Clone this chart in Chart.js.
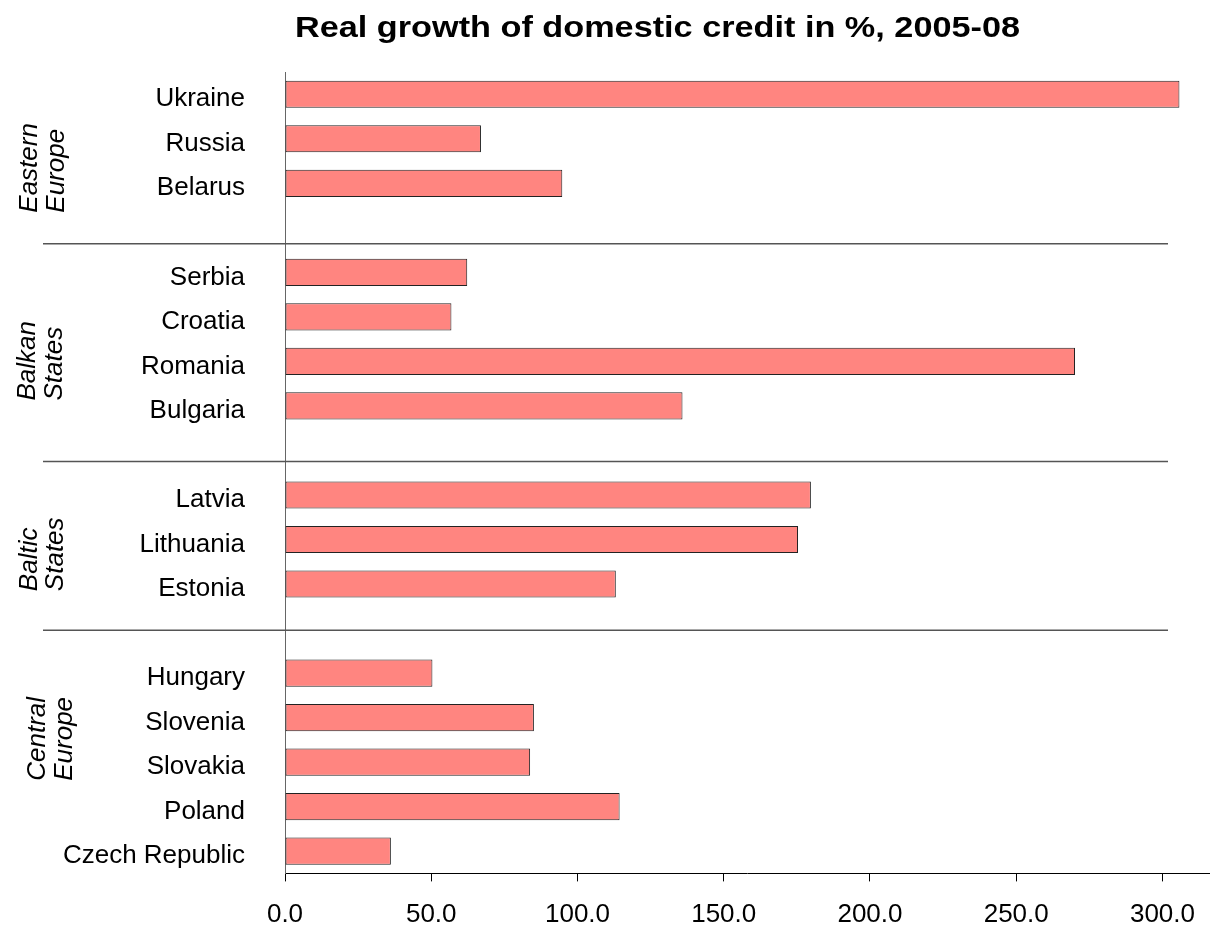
<!DOCTYPE html>
<html>
<head>
<meta charset="utf-8">
<title>Real growth of domestic credit</title>
<script src="https://cdn.jsdelivr.net/npm/chart.js@4.4.0/dist/chart.umd.min.js"></script>
<style>
  html, body { margin: 0; padding: 0; background: #fff; }
  canvas { display: block; }
</style>
</head>
<body>
<canvas id="creditChart" width="1213" height="929"></canvas>
<script>
const countries = ["Ukraine", "Russia", "Belarus", "", "Serbia", "Croatia", "Romania", "Bulgaria", "",
                   "Latvia", "Lithuania", "Estonia", "", "Hungary", "Slovenia", "Slovakia", "Poland", "Czech Republic"];
const creditGrowth = [305.8, 67.0, 94.8, null, 62.3, 56.9, 270.1, 135.9, null,
                      179.8, 175.4, 113.1, null, 50.4, 85.1, 83.8, 114.4, 36.2];
const regionNames = [["Eastern", "Europe"], ["Balkan", "States"], ["Baltic", "States"], ["Central", "Europe"]];
const xTicks = [0, 50, 100, 150, 200, 250, 300];
const chartTitle = "Real growth of domestic credit in %, 2005-08";

const FONT = '"Liberation Sans", Arial, sans-serif';

// where each region caption starts (category index) and the baseline x of its two lines
const regionLayout = [
    { at: 2.66, x: [37, 64] },
    { at: 6.88, x: [35, 62] },
    { at: 11.16, x: [37, 63] },
    { at: 15.42, x: [45, 72] },
];
const dividerRows = [3.36, 8.25, 12.04];

const decorations = {
    id: "decorations",
    afterDraw(chart) {
        const ctx = chart.ctx;
        const y = chart.scales.y;

        // title, slightly condensed
        ctx.save();
        ctx.font = "bold 29px " + FONT;
        ctx.fillStyle = "#000";
        ctx.textBaseline = "alphabetic";
        const w = ctx.measureText(chartTitle).width;
        ctx.translate(295, 37);
        ctx.scale(725 / w, 1);
        ctx.fillText(chartTitle, 0, 0);
        ctx.restore();

        // region dividers
        ctx.save();
        ctx.strokeStyle = "#555";
        ctx.lineWidth = 1.5;
        dividerRows.forEach((r) => {
            const py = y.getPixelForValue(r);
            ctx.beginPath();
            ctx.moveTo(43, py);
            ctx.lineTo(1168, py);
            ctx.stroke();
        });
        ctx.restore();

        // rotated region captions
        ctx.save();
        ctx.font = "italic 26px " + FONT;
        ctx.fillStyle = "#000";
        ctx.textAlign = "left";
        ctx.textBaseline = "alphabetic";
        regionNames.forEach((lines, i) => {
            const lay = regionLayout[i];
            const py = y.getPixelForValue(lay.at);
            lines.forEach((txt, j) => {
                ctx.save();
                ctx.translate(lay.x[j], py);
                ctx.rotate(-Math.PI / 2);
                ctx.fillText(txt, 0, 0);
                ctx.restore();
            });
        });
        ctx.restore();
    },
};

new Chart(document.getElementById("creditChart").getContext("2d"), {
    type: "bar",
    data: {
        labels: countries,
        datasets: [{
            data: creditGrowth,
            backgroundColor: "#FF8580",
            borderColor: "#222",
            borderWidth: 1,
            borderSkipped: false,
            barPercentage: 0.61,
            categoryPercentage: 1.0,
        }],
    },
    options: {
        indexAxis: "y",
        responsive: false,
        animation: false,
        layout: { padding: { top: 72, right: 0, bottom: 0, left: 0 } },
        plugins: { legend: { display: false }, tooltip: { enabled: false }, title: { display: false } },
        scales: {
            x: {
                type: "linear",
                position: "bottom",
                min: 0,
                max: 316,
                afterBuildTicks: (s) => { s.ticks = xTicks.map((v) => ({ value: v })); },
                afterFit: (s) => { s.height = 54; },
                ticks: {
                    callback: (v) => Number(v).toFixed(1),
                    font: { family: FONT, size: 26 },
                    color: "#000",
                    padding: 18,
                    maxRotation: 0,
                    autoSkip: false,
                },
                grid: { drawOnChartArea: false, drawTicks: true, tickLength: 8, color: "#000" },
                border: { display: true, color: "#000", width: 1 },
            },
            y: {
                type: "category",
                afterFit: (s) => { s.width = 285; },
                ticks: {
                    font: { family: FONT, size: 26 },
                    color: "#000",
                    padding: 40,
                    labelOffset: 5,
                    autoSkip: false,
                },
                grid: { display: false, drawTicks: false },
                border: { display: true, color: "#666", width: 1 },
            },
        },
    },
    plugins: [decorations],
});
</script>
</body>
</html>
